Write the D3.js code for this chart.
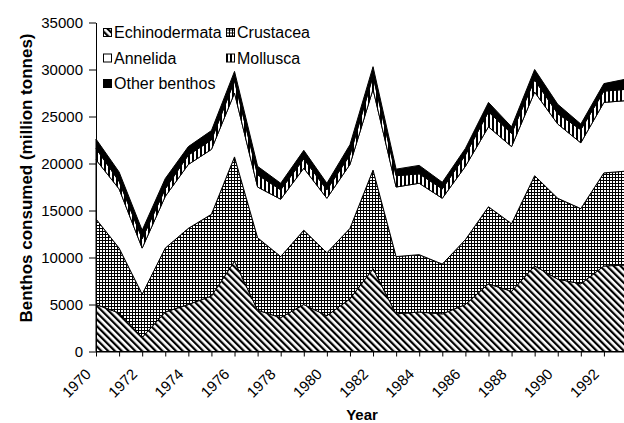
<!DOCTYPE html>
<html>
<head>
<meta charset="utf-8">
<script src="https://cdn.jsdelivr.net/npm/d3@7"></script>
<style>
  body { margin: 0; background: #fff; }
  svg { display: block; font-family: "Liberation Sans", Arial, sans-serif; }
</style>
</head>
<body>
<div id="chart"></div>
<script>
const years = [1970, 1971, 1972, 1973, 1974, 1975, 1976, 1977, 1978, 1979, 1980, 1981,
               1982, 1983, 1984, 1985, 1986, 1987, 1988, 1989, 1990, 1991, 1992, 1993];
const echinodermata = [5000, 4100, 1500, 4200, 5000, 5900, 9600, 4400, 3600, 5000, 3800, 5600,
                       8800, 4000, 4200, 4000, 5000, 7200, 6400, 9100, 7700, 7200, 9100, 9200];
const crustacea = [9100, 6900, 4600, 6800, 8100, 8700, 11100, 7700, 6500, 7900, 6700, 7500,
                   10500, 6100, 6100, 5300, 6900, 8200, 7200, 9600, 8600, 8000, 9900, 10000];
const annelida = [6300, 6300, 4900, 5500, 6800, 6900, 6800, 5400, 6100, 6600, 5800, 6800,
                  8600, 7400, 7600, 7000, 7800, 8500, 8200, 8900, 7900, 7000, 7500, 7500];
const mollusca = [1200, 800, 1000, 800, 1000, 1000, 1300, 1300, 1000, 1000, 900, 1000,
                  1400, 1200, 1000, 1000, 1200, 1600, 1400, 1300, 1100, 1400, 1200, 1200];
const otherBenthos = [1000, 1000, 900, 1100, 900, 1000, 1000, 900, 700, 900, 700, 1100,
                      1000, 700, 900, 700, 700, 1000, 700, 1100, 1000, 600, 800, 1100];

const seriesKeys = ["echinodermata", "crustacea", "annelida", "mollusca", "other"];
const seriesLabels = ["Echinodermata", "Crustacea", "Annelida", "Mollusca", "Other benthos"];
const yTicks = [0, 5000, 10000, 15000, 20000, 25000, 30000, 35000];
const xLabelYears = [1970, 1972, 1974, 1976, 1978, 1980, 1982, 1984, 1986, 1988, 1990, 1992];

const width = 624, height = 423;

const table = years.map((yr, i) => ({
    year: yr,
    echinodermata: echinodermata[i],
    crustacea: crustacea[i],
    annelida: annelida[i],
    mollusca: mollusca[i],
    other: otherBenthos[i]
}));

const svg = d3.select("#chart").append("svg")
    .attr("width", width)
    .attr("height", height);

// patterns
const defs = svg.append("defs");

const pEchino = defs.append("pattern")
    .attr("id", "p-echino")
    .attr("patternUnits", "userSpaceOnUse")
    .attr("width", 4.8).attr("height", 4.8)
    .attr("patternTransform", "rotate(-45)");
pEchino.append("rect").attr("width", 4.8).attr("height", 4.8).attr("fill", "#fff");
pEchino.append("rect").attr("width", 2.2).attr("height", 4.8).attr("fill", "#000");

const pCrust = defs.append("pattern")
    .attr("id", "p-crust")
    .attr("patternUnits", "userSpaceOnUse")
    .attr("width", 3).attr("height", 3);
pCrust.append("rect").attr("width", 3).attr("height", 3).attr("fill", "#fff");
pCrust.append("rect").attr("width", 1).attr("height", 3).attr("fill", "#000");
pCrust.append("rect").attr("width", 3).attr("height", 1).attr("fill", "#000");

const pMoll = defs.append("pattern")
    .attr("id", "p-moll")
    .attr("patternUnits", "userSpaceOnUse")
    .attr("width", 4).attr("height", 4);
pMoll.append("rect").attr("width", 4).attr("height", 4).attr("fill", "#fff");
pMoll.append("rect").attr("width", 2).attr("height", 4).attr("fill", "#000");

const fills = {
    echinodermata: "url(#p-echino)",
    crustacea: "url(#p-crust)",
    annelida: "#fff",
    mollusca: "url(#p-moll)",
    other: "#000"
};

const x = d3.scaleLinear().domain([1970, 1993]).range([96, 627]);
const y = d3.scaleLinear().domain([0, 35000]).range([351.5, 22.5]);

const stack = d3.stack().keys(seriesKeys);
const layers = stack(table);

const area = d3.area()
    .x(d => x(d.data.year))
    .y0(d => y(d[0]))
    .y1(d => y(d[1]));

svg.append("g")
    .selectAll("path")
    .data(layers)
    .join("path")
    .attr("d", area)
    .attr("fill", d => fills[d.key])
    .attr("stroke", "#000")
    .attr("stroke-width", 1)
    .attr("stroke-linejoin", "miter");

// y axis
const yAxis = svg.append("g")
    .attr("transform", `translate(${x(1970)},0)`)
    .call(d3.axisLeft(y).tickValues(yTicks).tickFormat(d3.format("d"))
        .tickSize(7).tickSizeOuter(0).tickPadding(6));
yAxis.selectAll("text").attr("font-size", "15px").attr("fill", "#000")
    .attr("font-family", "'Liberation Sans', Arial, sans-serif");
yAxis.selectAll("line, path").attr("stroke", "#000");

// x axis
const xAxis = svg.append("g")
    .attr("transform", `translate(0,${y(0)})`)
    .call(d3.axisBottom(x).tickValues(years).tickSize(5).tickSizeOuter(0).tickFormat(""));
xAxis.selectAll("line, path").attr("stroke", "#000");

svg.append("g")
    .selectAll("text")
    .data(xLabelYears)
    .join("text")
    .attr("transform", d => `translate(${x(d) - 4},375) rotate(-45)`)
    .attr("text-anchor", "end")
    .attr("font-size", "15px")
    .text(d => d);

// axis titles
svg.append("text")
    .attr("x", 362)
    .attr("y", 420)
    .attr("text-anchor", "middle")
    .attr("font-size", "15px")
    .attr("font-weight", "bold")
    .text("Year");

svg.append("text")
    .attr("transform", "translate(32,178) rotate(-90)")
    .attr("text-anchor", "middle")
    .attr("font-size", "17px")
    .attr("font-weight", "bold")
    .text("Benthos consumed (million tonnes)");

// legend
const legendPos = [
    { key: "echinodermata", x: 103, y: 32.5 },
    { key: "crustacea", x: 226, y: 32.5 },
    { key: "annelida", x: 103, y: 58 },
    { key: "mollusca", x: 226, y: 58 },
    { key: "other", x: 103, y: 83.5 }
];

const legend = svg.append("g")
    .selectAll("g")
    .data(legendPos)
    .join("g")
    .attr("transform", d => `translate(${d.x},${d.y})`);

legend.append("rect")
    .attr("x", 0.5).attr("y", -4)
    .attr("width", 8).attr("height", 8)
    .attr("fill", d => fills[d.key])
    .attr("stroke", "#000");

legend.append("text")
    .attr("x", 11)
    .attr("dy", "0.36em")
    .attr("font-size", "16px")
    .text(d => seriesLabels[seriesKeys.indexOf(d.key)]);
</script>
</body>
</html>
